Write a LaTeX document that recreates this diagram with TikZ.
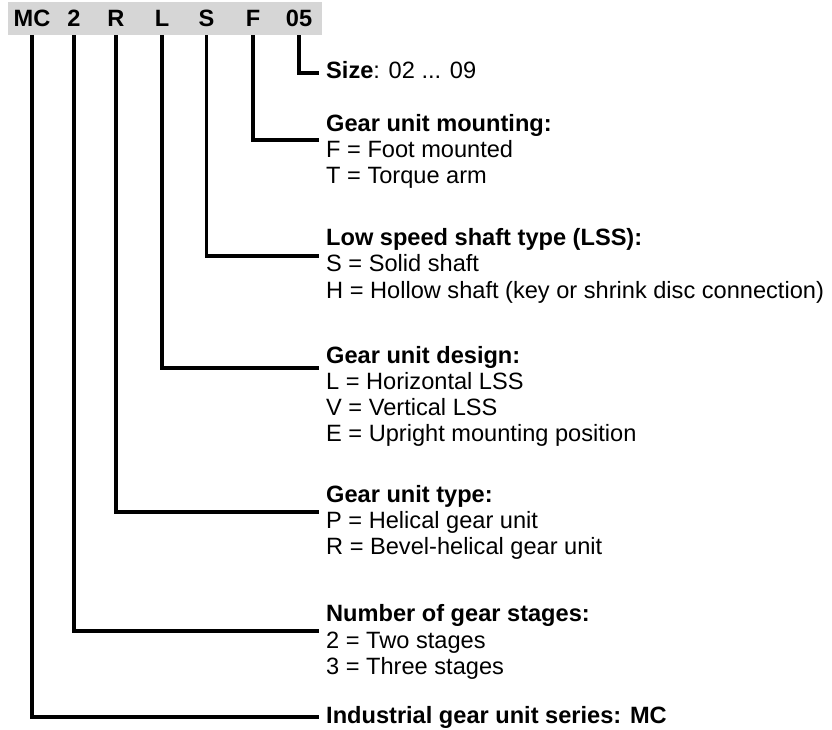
\documentclass[tikz,border=0pt]{standalone}
\usepackage{fontspec}
\setmainfont{Liberation Sans}
\definecolor{hdrgray}{RGB}{214,214,214}
\begin{document}
\begin{tikzpicture}[x=1pt,y=-1pt,
  txt/.style={anchor=base west, inner sep=0pt, font=\fontsize{23.6}{26}\selectfont},
  head/.style={anchor=base west, inner sep=0pt, font=\fontsize{23.6}{26}\selectfont\bfseries},
  code/.style={anchor=base, inner sep=0pt, font=\fontsize{23.6}{26}\selectfont\bfseries},
  conn/.style={line width=3.3pt, line join=miter}]
\useasboundingbox (0,0) rectangle (832,730);
% header bar
\node[fill=hdrgray, minimum width=314pt, minimum height=33pt, inner sep=0pt] (bar) at (165,18.5) {};
\node[code] (mc) at (32,27) {MC};
\node[code] (two) at (74,27) {2};
\node[code] (r) at (116,27) {R};
\node[code] (l) at (162,27) {L};
\node[code] (s) at (206.5,27) {S};
\node[code] (f) at (253,27) {F};
\node[code] (sz) at (299,27) {05};
% connector ends
\coordinate (eSz) at (319,73);
\coordinate (eF) at (319,140);
\coordinate (eS) at (319,256);
\coordinate (eL) at (319,368);
\coordinate (eR) at (319,512);
\coordinate (eTwo) at (319,631);
\coordinate (eMC) at (319,717);
% texts
\node[txt] (tsize) at (326,79) {{\bfseries Size}: 02 ... 09};
\node[head] (hgum) at (326,132) {Gear unit mounting:};
\node[txt] (gum1) at (326,158) {F = Foot mounted};
\node[txt] (gum2) at (326,184) {T = Torque arm};
\node[head] (hlss) at (326,245) {Low speed shaft type (LSS):};
\node[txt] (lss1) at (326,271.5) {S = Solid shaft};
\node[txt] (lss2) at (326,298) {H = Hollow shaft (key or shrink disc connection)};
\node[head] (hgud) at (326,363) {Gear unit design:};
\node[txt] (gud1) at (326,389) {L = Horizontal LSS};
\node[txt] (gud2) at (326,415) {V = Vertical LSS};
\node[txt] (gud3) at (326,441) {E = Upright mounting position};
\node[head] (hgut) at (326,502) {Gear unit type:};
\node[txt] (gut1) at (326,528) {P = Helical gear unit};
\node[txt] (gut2) at (326,554) {R = Bevel-helical gear unit};
\node[head] (hnum) at (326,621) {Number of gear stages:};
\node[txt] (num1) at (326,648) {2 = Two stages};
\node[txt] (num2) at (326,674) {3 = Three stages};
\node[head] (hmc) at (326,723) {Industrial gear unit series: MC};
% connectors
\draw[conn] (bar.south -| sz) |- (eSz);
\draw[conn] (bar.south -| f) |- (eF);
\draw[conn] (bar.south -| s) |- (eS);
\draw[conn] (bar.south -| l) |- (eL);
\draw[conn] (bar.south -| r) |- (eR);
\draw[conn] (bar.south -| two) |- (eTwo);
\draw[conn] (bar.south -| mc) |- (eMC);
\end{tikzpicture}
\end{document}
